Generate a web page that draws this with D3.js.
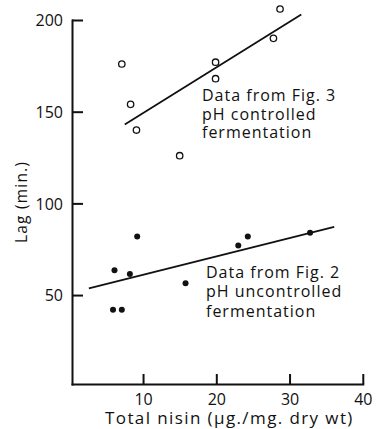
<!DOCTYPE html>
<html>
<head>
<meta charset="utf-8">
<script src="https://cdn.jsdelivr.net/npm/d3@7"></script>
<style>
  html, body { margin: 0; padding: 0; background: #fff; }
  svg { display: block; }
  text { font-family: "Open Sans", Lato, sans-serif; font-weight: 500; fill: #111; }
</style>
</head>
<body>
<svg id="chart" width="380" height="429"></svg>
<script>
// pH controlled fermentation (Fig. 3): total nisin vs lag
const controlledNisin = [7.1, 8.3, 9.1, 15.0, 19.9, 19.9, 27.8, 28.7];
const controlledLag   = [176, 154, 140, 126, 177, 168, 190, 206];
// fitted line endpoints for the controlled series
const controlledFitX = [7.5, 31.6];
const controlledFitY = [143, 203];

// pH uncontrolled fermentation (Fig. 2)
const uncontrolledNisin = [6.1, 5.9, 7.1, 8.2, 9.2, 15.8, 23.0, 24.3, 32.8];
const uncontrolledLag   = [63.5, 42, 42, 61.5, 82, 56.5, 77, 82, 84];
const uncontrolledFitX = [2.6, 36.1];
const uncontrolledFitY = [53.6, 87.2];

const xTicks = [10, 20, 30, 40];
const yTicks = [50, 100, 150, 200];

const xTitle = "Total nisin (\u03bcg./mg. dry wt)";
const yTitle = "Lag (min.)";
const controlledLabel = ["Data from Fig. 3", "pH controlled", "fermentation"];
const uncontrolledLabel = ["Data from Fig. 2", "pH uncontrolled", "fermentation"];

const FONT = "'Open Sans', Lato, sans-serif";
const svg = d3.select("#chart");

const x = d3.scaleLinear().domain([0.3, 40]).range([72, 362.8]);
const y = d3.scaleLinear().domain([1.5, 200]).range([384, 20]);

// axes with inward ticks
const xAxis = svg.append("g")
  .attr("transform", `translate(0,${y(1.5)})`)
  .call(d3.axisBottom(x).tickValues(xTicks).tickSizeInner(-10).tickSizeOuter(0).tickPadding(21).tickFormat(d3.format("d")));
const yAxis = svg.append("g")
  .attr("transform", `translate(${x(0.3)},0)`)
  .call(d3.axisLeft(y).tickValues(yTicks).tickSizeInner(-11).tickSizeOuter(0).tickPadding(20).tickFormat(d3.format("d")));

[xAxis, yAxis].forEach(g => {
  g.select(".domain").attr("stroke", "#111").attr("stroke-width", 2).attr("stroke-linecap", "square");
  g.selectAll(".tick line").attr("stroke", "#111").attr("stroke-width", 2);
  g.selectAll(".tick text").attr("font-size", 16).attr("fill", "#111")
    .style("font-family", FONT).style("font-weight", 500);
});
yAxis.selectAll(".tick text").attr("x", -9).attr("dy", "0.36em");
xAxis.selectAll(".tick text").attr("dy", 0).attr("y", 20.5);

// axis titles
svg.append("text")
  .attr("x", 105).attr("y", 423.5)
  .attr("font-size", 17)
  .attr("letter-spacing", 1.4)
  .text(xTitle);
svg.append("text")
  .attr("transform", "translate(27,243) rotate(-90)")
  .attr("font-size", 15.5)
  .attr("letter-spacing", 1.2)
  .text(yTitle);

// fitted lines
const fitLine = (xs, ys) => d3.line()(xs.map((v, i) => [x(v), y(ys[i])]));
svg.append("path").attr("d", fitLine(controlledFitX, controlledFitY))
  .attr("stroke", "#111").attr("stroke-width", 1.8).attr("fill", "none");
svg.append("path").attr("d", fitLine(uncontrolledFitX, uncontrolledFitY))
  .attr("stroke", "#111").attr("stroke-width", 1.8).attr("fill", "none");

// open circles: controlled
svg.append("g").selectAll("circle")
  .data(controlledNisin.map((v, i) => [v, controlledLag[i]]))
  .join("circle")
  .attr("cx", d => x(d[0])).attr("cy", d => y(d[1]))
  .attr("r", 3.2)
  .attr("fill", "#fff").attr("stroke", "#111").attr("stroke-width", 1.3);

// filled dots: uncontrolled
svg.append("g").selectAll("circle")
  .data(uncontrolledNisin.map((v, i) => [v, uncontrolledLag[i]]))
  .join("circle")
  .attr("cx", d => x(d[0])).attr("cy", d => y(d[1]))
  .attr("r", 3)
  .attr("fill", "#111");

// series annotations
function annotate(lines, px, py, lh) {
  const t = svg.append("text").attr("font-size", 16).attr("letter-spacing", 1);
  lines.forEach((s, i) => t.append("tspan").attr("x", px).attr("y", py + i * lh).text(s));
}
annotate(controlledLabel, 202, 101, 18.7);
annotate(uncontrolledLabel, 206, 277.5, 19.5);
</script>
</body>
</html>
